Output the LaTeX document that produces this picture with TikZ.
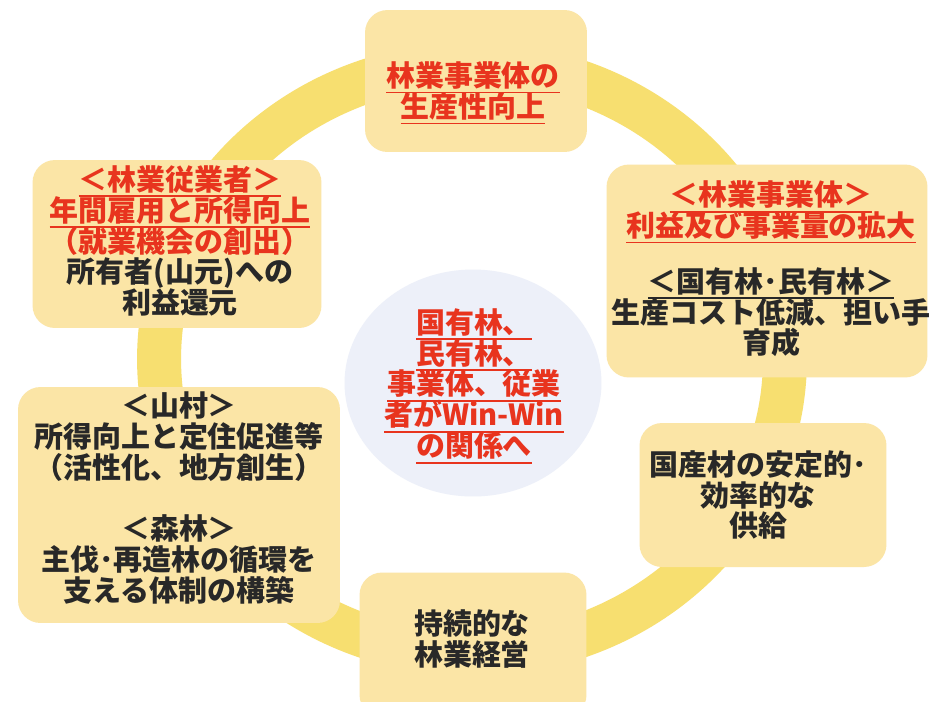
\documentclass[tikz,border=0pt]{standalone}
\usepackage{fontspec}
\setmainfont{Noto Sans CJK JP}
\usetikzlibrary{shapes.geometric}
\definecolor{ringyellow}{RGB}{247,223,112}
\definecolor{boxfill}{RGB}{251,229,166}
\definecolor{hubfill}{RGB}{237,240,249}
\definecolor{txtred}{RGB}{232,52,30}
\definecolor{txtdark}{RGB}{40,40,40}
\newcommand\tightlines{\lineskiplimit-20pt\relax\lineskip0pt\relax}
\tikzstyle{box}=[fill=boxfill, rounded corners=0.45cm, inner sep=0pt]
\tikzstyle{ring}=[draw=ringyellow, line width=0.88cm]
\tikzstyle{txt}=[align=center, inner sep=0pt, text=txtdark,
  font=\fontsize{16.5}{17.6}\selectfont\bfseries\tightlines]
\newcommand\uln[1]{\setbox0\hbox{#1}\rlap{\vrule height -3pt depth 3.9pt width \wd0}\box0}
\newcommand\red[1]{\textcolor{txtred}{#1}}

\begin{document}
\begin{tikzpicture}[x=0.02cm,y=-0.02cm]
    \fill[white] (0,0) rectangle (929,701);
    \useasboundingbox (0,0) rectangle (929,701);
    % ring behind the boxes
    \coordinate (hub) at (472,359);
    \draw[ring] (hub) ellipse [x radius=6.26cm, y radius=5.9cm];
    % boxes
    \node [box, minimum width=4.44cm, minimum height=2.84cm] (prodbox) at (476,81) {};
    \node [box, minimum width=5.78cm, minimum height=3.36cm] (workbox) at (177,244) {};
    \node [box, minimum width=6.42cm, minimum height=4.26cm] (firmbox) at (767,271) {};
    \node [box, minimum width=6.44cm, minimum height=4.72cm] (villbox) at (179,505) {};
    \node [box, minimum width=4.94cm, minimum height=2.88cm] (supbox) at (763,495) {};
    \node [box, minimum width=4.54cm, minimum height=2.90cm] (mgmtbox) at (473,645) {};
    \node [ellipse, fill=hubfill, minimum width=5.14cm, minimum height=4.54cm] (hubcirc) at (473,383) {};
    % texts
    \node [txt, text=txtred] (prod) at (473,93)
        {\uln{林業事業体の}\\\uln{生産性向上}};
    \node [txt] (work) at (180,241)
        {\red{\uln{＜林業従業者＞}}\\\red{\uln{年間雇用と所得向上}}\\\red{（就業機会の創出）}\\所有者(山元)への\\利益還元};
    \node [txt] (firm) at (771,269)
        {\red{\uln{＜林業事業体＞}}\\\red{\uln{利益及び事業量の拡大}}\\[14pt]\uln{＜国有林･民有林＞}\\生産コスト低減、担い手\\育成};
    \node [txt, text=txtred] (winwin) at (474,386)
        {\uln{国有林、}\\\uln{民有林、}\\\uln{事業体、従業}\\\uln{者がWin-Win}\\\uln{の関係へ}};
    \node [txt] (vill) at (179,498)
        {＜山村＞\\所得向上と定住促進等\\（活性化、地方創生）\\[17pt]＜森林＞\\主伐･再造林の循環を\\支える体制の構築};
    \node [txt] (sup) at (758,495)
        {国産材の安定的･\\効率的な\\供給};
    \node [txt] (mgmt) at (472,639)
        {持続的な\\林業経営};
\end{tikzpicture}
\end{document}
